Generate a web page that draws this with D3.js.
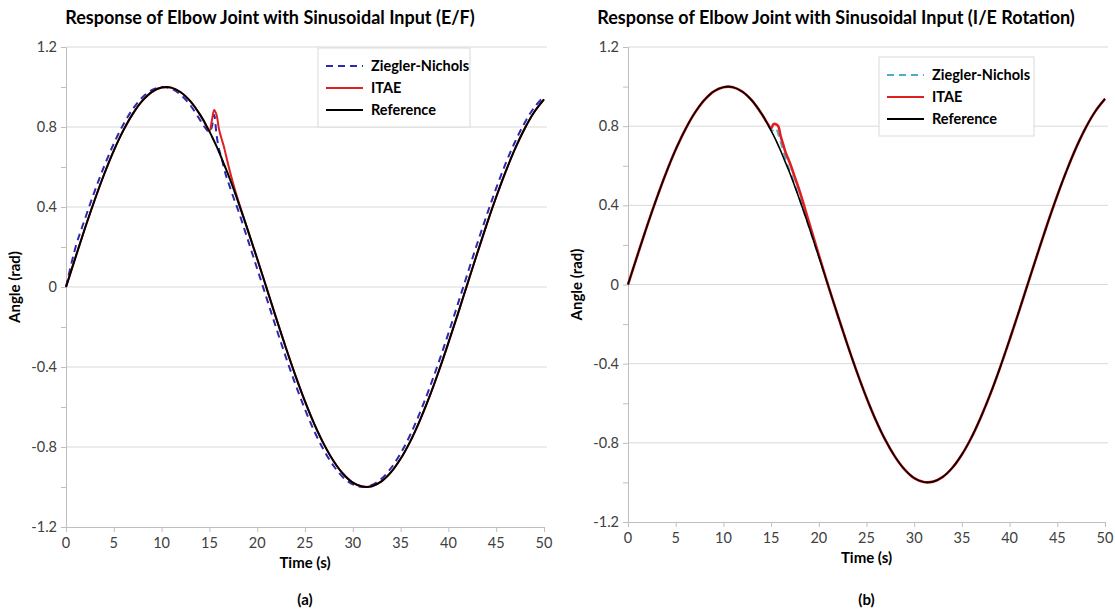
<!DOCTYPE html>
<html>
<head>
<meta charset="utf-8">
<script src="https://cdn.jsdelivr.net/npm/d3@7"></script>
<style>
  body { margin: 0; background: #fff; }
  text { font-family: Lato, "Open Sans", sans-serif; fill: #000; }
</style>
</head>
<body>
<svg id="chart" width="1115" height="615"></svg>
<script>
// time samples (s), finer around the disturbance near 15-18 s
const timeS = [0,1,2,3,4,5,6,7,8,9,10,11,12,13,14,
  14.5,15,15.25,15.5,15.75,16,16.25,16.5,16.75,17,17.5,18,
  19,20,21,22,23,24,25,26,27,28,29,30,31,32,33,34,35,36,37,38,39,40,41,42,43,44,45,46,47,48,49,50];

// reference angle (rad), same for both panels
const refAngle = [0,0.149,0.296,0.435,0.565,0.682,0.783,0.867,0.932,0.976,0.997,0.997,0.974,0.929,0.863,
  0.823,0.778,0.754,0.729,0.703,0.676,0.647,0.617,0.588,0.558,0.494,0.427,
  0.287,0.141,-0.008,-0.158,-0.304,-0.443,-0.572,-0.688,-0.788,-0.871,-0.935,-0.978,-0.998,-0.996,-0.972,-0.926,-0.859,-0.773,-0.669,-0.551,-0.420,-0.279,-0.133,0.017,0.166,0.312,0.450,0.578,0.694,0.794,0.876,0.938];

// (a) E/F
const znEF = [0,0.199,0.343,0.479,0.605,0.717,0.813,0.891,0.949,0.985,1.000,0.992,0.961,0.909,0.837,
  0.800,0.775,0.800,0.860,0.760,0.690,0.650,0.600,0.555,0.520,0.450,0.385,
  0.239,0.091,-0.058,-0.207,-0.351,-0.487,-0.612,-0.724,-0.818,-0.895,-0.952,-0.987,-1.000,-0.990,-0.959,-0.905,-0.832,-0.740,-0.631,-0.508,-0.374,-0.232,-0.083,0.067,0.215,0.358,0.494,0.619,0.729,0.823,0.899,0.953];
const itaeEF = [0,0.149,0.296,0.435,0.565,0.682,0.783,0.867,0.932,0.976,0.997,0.997,0.974,0.929,0.863,
  0.823,0.780,0.830,0.885,0.860,0.790,0.745,0.705,0.655,0.605,0.515,0.435,
  0.287,0.141,-0.008,-0.158,-0.304,-0.443,-0.572,-0.688,-0.788,-0.871,-0.935,-0.978,-0.998,-0.996,-0.972,-0.926,-0.859,-0.773,-0.669,-0.551,-0.420,-0.279,-0.133,0.017,0.166,0.312,0.450,0.578,0.694,0.794,0.876,0.938];

// (b) I/E rotation
const znIE = [0,0.149,0.296,0.435,0.565,0.682,0.783,0.867,0.932,0.976,0.997,0.997,0.974,0.929,0.863,
  0.823,0.780,0.780,0.790,0.760,0.720,0.680,0.640,0.600,0.570,0.500,0.430,
  0.287,0.141,-0.008,-0.158,-0.304,-0.443,-0.572,-0.688,-0.788,-0.871,-0.935,-0.978,-0.998,-0.996,-0.972,-0.926,-0.859,-0.773,-0.669,-0.551,-0.420,-0.279,-0.133,0.017,0.166,0.312,0.450,0.578,0.694,0.794,0.876,0.938];
const itaeIE = [0,0.149,0.296,0.435,0.565,0.682,0.783,0.867,0.932,0.976,0.997,0.997,0.974,0.929,0.863,
  0.823,0.790,0.810,0.810,0.800,0.750,0.710,0.670,0.640,0.610,0.540,0.470,
  0.310,0.150,-0.008,-0.158,-0.304,-0.443,-0.572,-0.688,-0.788,-0.871,-0.935,-0.978,-0.998,-0.996,-0.972,-0.926,-0.859,-0.773,-0.669,-0.551,-0.420,-0.279,-0.133,0.017,0.166,0.312,0.450,0.578,0.694,0.794,0.876,0.938];

const xTicks = [0,5,10,15,20,25,30,35,40,45,50];
const yTicks = [-1.2,-0.8,-0.4,0,0.4,0.8,1.2];
const yMinor = [-1.2,-1.0,-0.8,-0.6,-0.4,-0.2,0,0.2,0.4,0.6,0.8,1.0,1.2];
const legendNames = ['Ziegler-Nichols', 'ITAE', 'Reference'];

const svg = d3.select('#chart');

function drawPanel(p) {
    const x = d3.scaleLinear().domain([0, 50]).range([p.left, p.right]);
    const y = d3.scaleLinear().domain([-1.2, 1.2]).range([p.bottom, p.top]);
    const g = svg.append('g');

    // gridlines
    g.selectAll('.grid').data(yTicks.filter(d => d > -1.2)).enter()
      .append('line')
      .attr('x1', p.left).attr('x2', p.right + 3)
      .attr('y1', d => y(d)).attr('y2', d => y(d))
      .attr('stroke', '#d9d9d9').attr('stroke-width', 1);

    // y axis with minor outside ticks
    const yAxis = g.append('g')
      .attr('transform', `translate(${p.left},0)`)
      .call(d3.axisLeft(y).tickValues(yMinor).tickSize(5).tickFormat(''));
    yAxis.select('.domain').attr('stroke', '#bfbfbf');
    yAxis.selectAll('.tick line').attr('stroke', '#bfbfbf');

    g.selectAll('.ylab').data(yTicks).enter()
      .append('text')
      .attr('x', p.left - 9).attr('y', d => y(d)).attr('dy', '0.35em')
      .attr('text-anchor', 'end')
      .style('font-size', '14.5px').style('fill', '#404040')
      .text(d => d === 0 ? '0' : d.toFixed(1));

    // x axis
    const xAxis = g.append('g')
      .attr('transform', `translate(0,${p.bottom})`)
      .call(d3.axisBottom(x).tickValues(xTicks).tickSize(5).tickFormat(''));
    xAxis.select('.domain').attr('stroke', '#bfbfbf');
    xAxis.selectAll('.tick line').attr('stroke', '#bfbfbf');

    g.selectAll('.xlab').data(xTicks).enter()
      .append('text')
      .attr('x', d => x(d)).attr('y', p.bottom + 21)
      .attr('text-anchor', 'middle')
      .style('font-size', '14.5px').style('fill', '#404040')
      .text(d => d);

    // titles
    g.append('text')
      .attr('x', p.titleX).attr('y', 24)
      .attr('text-anchor', 'middle')
      .style('font-size', '18px').style('font-weight', 'bold')
      .text(p.title);
    g.append('text')
      .attr('x', (p.left + p.right) / 2).attr('y', p.bottom + 41)
      .attr('text-anchor', 'middle')
      .style('font-size', '15px').style('font-weight', 'bold')
      .text('Time (s)');
    g.append('text')
      .attr('transform', `translate(${p.left - 46},${y(0)}) rotate(-90)`)
      .attr('text-anchor', 'middle')
      .style('font-size', '15px').style('font-weight', 'bold')
      .text('Angle (rad)');
    g.append('text')
      .attr('x', (p.left + p.right) / 2).attr('y', 605)
      .attr('text-anchor', 'middle')
      .style('font-size', '15px').style('font-weight', 'bold')
      .text(p.label);

    // series
    const line = d3.line()
      .x((d, i) => x(timeS[i]))
      .y(d => y(d))
      .curve(d3.curveCatmullRom.alpha(0.5));

    g.append('path').datum(p.zn)
      .attr('d', line).attr('fill', 'none')
      .attr('stroke', p.znColor).attr('stroke-width', 2)
      .attr('stroke-dasharray', '7,5');
    g.append('path').datum(p.itae)
      .attr('d', line).attr('fill', 'none')
      .attr('stroke', '#e02020').attr('stroke-width', p.itaeWidth);
    g.append('path').datum(refAngle)
      .attr('d', line).attr('fill', 'none')
      .attr('stroke', '#000').attr('stroke-width', p.refWidth);

    // legend
    const lg = g.append('g').attr('transform', `translate(${p.legX},${p.legY})`);
    lg.append('rect')
      .attr('width', p.legW).attr('height', 79)
      .attr('fill', '#fff').attr('stroke', '#d9d9d9');
    const colors = [p.znColor, '#e02020', '#000'];
    legendNames.forEach((name, i) => {
        const ly = 18 + i * 22;
        lg.append('line')
          .attr('x1', 8).attr('x2', 45).attr('y1', ly).attr('y2', ly)
          .attr('stroke', colors[i]).attr('stroke-width', 2)
          .attr('stroke-dasharray', i === 0 ? '7,5' : null);
        lg.append('text')
          .attr('x', 53).attr('y', ly).attr('dy', '0.35em')
          .style('font-size', '14.5px').style('font-weight', 'bold')
          .text(name);
    });
}

drawPanel({left: 66, right: 544, top: 47, bottom: 527, title: 'Response of Elbow Joint with Sinusoidal Input (E/F)',
  titleX: 270, label: '(a)', zn: znEF, itae: itaeEF, znColor: '#2a2ab0', itaeWidth: 2, refWidth: 2,
  legX: 318, legY: 48, legW: 152});
drawPanel({left: 628, right: 1105, top: 47, bottom: 522, title: 'Response of Elbow Joint with Sinusoidal Input (I/E Rotation)',
  titleX: 836, label: '(b)', zn: znIE, itae: itaeIE, znColor: '#4bacc6', itaeWidth: 2.6, refWidth: 1.6,
  legX: 879, legY: 57, legW: 155});
</script>
</body>
</html>
